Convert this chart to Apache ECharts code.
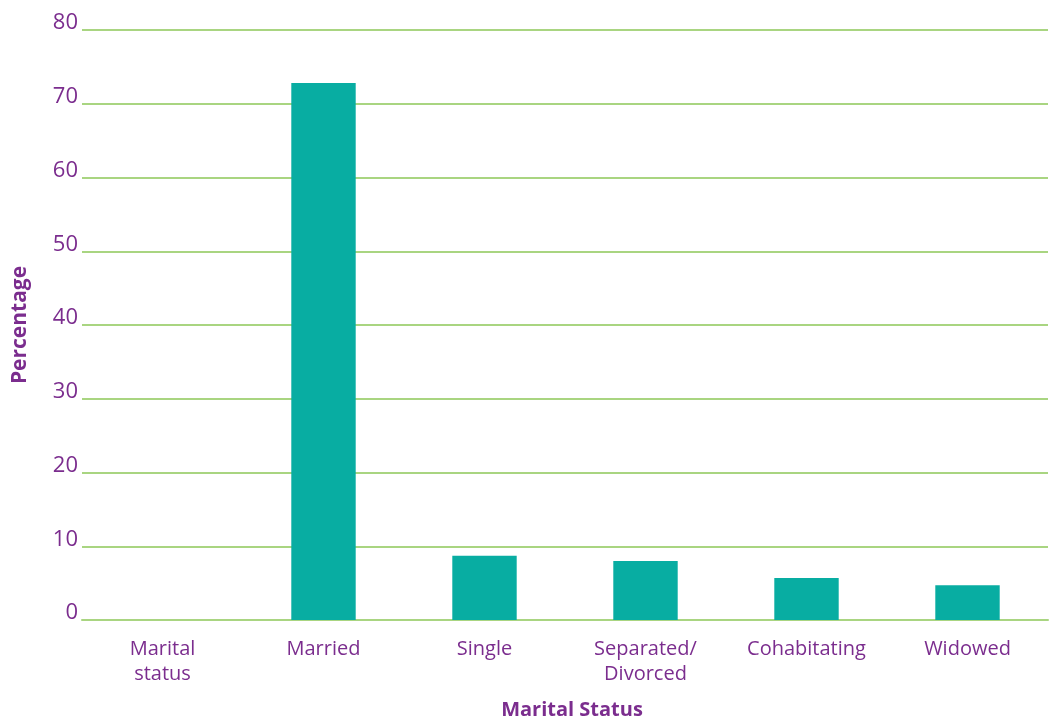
<!DOCTYPE html>
<html>
<head>
<meta charset="utf-8">
<script src="https://cdn.jsdelivr.net/npm/echarts@6/dist/echarts.min.js"></script>
<style>
  html, body { margin: 0; padding: 0; background: #ffffff; overflow: hidden; }
  #chart { width: 1054px; height: 720px; }
</style>
</head>
<body>
<div id="chart"></div>
<script>
// Marital status distribution (percent of respondents)
const categories = ['Marital\nstatus', 'Married', 'Single', 'Separated/\nDivorced', 'Cohabitating', 'Widowed'];
const percentages = [null, 72.8, 8.7, 8.0, 5.7, 4.7];
const yTicks = { min: 0, max: 80, interval: 10 };

const purple = '#7B2D8E';
const green = '#A9D581';
const teal = '#08ADA2';
const font = '"Open Sans", "Noto Sans", sans-serif';

const chart = echarts.init(document.getElementById('chart'), null, { renderer: 'canvas' });
chart.setOption({
  animation: false,
  grid: {
    left: 82, right: 6, top: 30, bottom: 100,
    containLabel: false, outerBoundsMode: 'none'
  },
  xAxis: {
    type: 'category',
    data: categories,
    name: 'Marital Status',
    nameLocation: 'middle',
    nameGap: 80,
    nameTextStyle: {
      color: purple, fontFamily: font, fontWeight: 'bold', fontSize: 20,
      padding: [0, 0, 0, 14]
    },
    axisLine: { show: true, lineStyle: { color: green, width: 2 } },
    axisTick: { show: false },
    axisLabel: {
      color: purple, fontFamily: font, fontSize: 20, margin: 17, lineHeight: 25,
      interval: 0
    }
  },
  yAxis: {
    type: 'value',
    min: yTicks.min,
    max: yTicks.max,
    interval: yTicks.interval,
    name: 'Percentage',
    nameLocation: 'middle',
    nameGap: 51,
    nameTextStyle: { color: purple, fontFamily: font, fontWeight: 'bold', fontSize: 21 },
    axisLine: { show: false },
    axisTick: { show: false },
    axisLabel: {
      color: purple, fontFamily: font, fontSize: 22, margin: 4,
      verticalAlign: 'bottom', padding: [0, 0, -4, 0]
    },
    splitLine: { show: true, lineStyle: { color: green, width: 2 } }
  },
  series: [{
    type: 'bar',
    data: percentages,
    barWidth: '40%',
    itemStyle: { color: teal }
  }]
});
</script>
</body>
</html>
